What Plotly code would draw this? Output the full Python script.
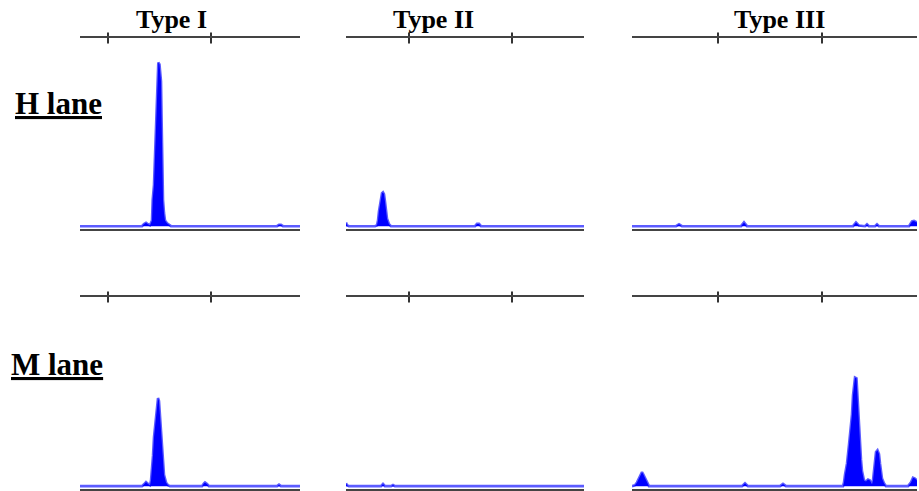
import plotly.graph_objects as go

# ---------------- data (x: migration position, y: band intensity) ----------------
lanes = ["H lane", "M lane"]
types = ["Type I", "Type II", "Type III"]

# tick positions of the top migration scale for each type
ticks_type1 = [28, 131]
ticks_type2 = [63, 166]
ticks_type3 = [86, 190]

# H lane profiles
h_type1_x = [0, 62, 64, 66, 68, 70, 72, 72.7, 74, 75, 76, 77, 77.5, 78.3, 79.5, 80.5, 81, 81.5, 82, 82.5, 83, 84, 85, 87, 89, 91, 197, 199, 201, 203, 220]
h_type1_y = [0, 0, 1.2, 1.8, 1.0, 0.5, 3, 14, 22, 40, 55, 77, 84, 87, 86, 80, 77, 60, 40, 25, 14, 7, 3, 1.5, 0.5, 0, 0, 0.7, 0.7, 0, 0]

h_type2_x = [0, 1, 3, 29, 31, 32, 33, 34, 35, 36, 37, 38, 39, 40, 41, 43, 45, 129, 131, 133, 135, 238]
h_type2_y = [2, 0.5, 0, 0, 0.5, 3, 8, 12, 16, 17.5, 18, 17, 13, 8, 4, 1, 0, 0, 1.2, 1.2, 0, 0]

h_type3_x = [0, 44, 47, 50, 109, 112, 115, 221, 224, 227, 233, 235, 237, 243, 245, 247, 277, 280, 282, 285]
h_type3_y = [0, 0, 1.0, 0, 0, 2.0, 0, 0, 2.0, 0.3, 0, 1.0, 0, 0, 1.0, 0, 0, 2.5, 2.8, 2.0]

# M lane profiles
m_type1_x = [0, 62, 64, 66, 68, 70, 71, 72, 73, 74, 75, 76, 77, 78, 79, 80, 81, 82, 83, 84, 86, 88, 90, 122, 124, 125, 127, 129, 197, 199, 201, 220]
m_type1_y = [0, 0, 1, 2.2, 1.2, 0.5, 3, 8, 16, 26, 32, 38, 44, 46.6, 45, 38, 30, 20, 12, 6, 2, 0.5, 0, 0, 1.5, 2.0, 1.2, 0, 0, 0.8, 0, 0]

m_type2_x = [0, 1, 3, 35, 37, 39, 45, 47, 49, 238]
m_type2_y = [1.5, 0.5, 0, 0, 1.2, 0, 0, 0.6, 0, 0]

m_type3_x = [0, 3, 5, 7, 9, 10, 11, 13, 15, 17, 110, 113, 116, 148, 151, 154, 211, 212, 213, 215, 217, 219, 220, 221, 222, 223, 224.5, 225, 226, 227, 228, 229, 230, 231, 232, 234, 236, 238, 240, 241, 242, 243, 244, 245.5, 247, 248, 249, 250, 252, 254, 276, 279, 281, 283, 285]
m_type3_y = [0, 0.5, 2, 4.5, 6.5, 7.4, 6.5, 4, 1.5, 0, 0, 1.5, 0, 0, 1.2, 0, 0, 2, 6, 12, 22, 32, 38, 48, 55, 57.4, 57, 52, 42, 30, 22, 14, 8, 5, 3, 2.5, 3.5, 3, 1, 3, 8, 14, 18, 19, 17, 12, 7, 4, 1.5, 0, 0, 2, 4.5, 4, 3]

profiles = [
    [(h_type1_x, h_type1_y), (h_type2_x, h_type2_y), (h_type3_x, h_type3_y)],
    [(m_type1_x, m_type1_y), (m_type2_x, m_type2_y), (m_type3_x, m_type3_y)],
]
tick_sets = [ticks_type1, ticks_type2, ticks_type3]

# ---------------- layout geometry ----------------
W, H = 919, 491
col_px = [(80, 300), (346, 584), (632, 917)]
col_range = [(0, 220), (0, 238), (0, 285)]
row_px = [(38, 229), (297, 489)]
Y_RANGE = [-1.5, 100]

fig = go.Figure()
layout_axes = {}
for i in range(2):
    for j in range(3):
        k = i * 3 + j + 1
        xa = "x" if k == 1 else f"x{k}"
        ya = "y" if k == 1 else f"y{k}"
        px_x, py_y = profiles[i][j]
        # baseline / outline trace (light blue)
        fig.add_trace(go.Scatter(x=px_x, y=py_y, mode="lines", xaxis=xa, yaxis=ya,
                                 line=dict(color="#5c5cff", width=2.6), hoverinfo="skip"))
        # filled peaks (pure blue)
        fig.add_trace(go.Scatter(x=px_x, y=py_y, mode="lines", xaxis=xa, yaxis=ya,
                                 fill="tozeroy", fillcolor="#0000ff",
                                 line=dict(color="rgba(0,0,0,0)", width=0), hoverinfo="skip"))
        # ticks on the top scale line
        fig.add_trace(go.Scatter(x=tick_sets[j], y=[Y_RANGE[1]] * len(tick_sets[j]),
                                 mode="markers", xaxis=xa, yaxis=ya, cliponaxis=False,
                                 marker=dict(symbol="line-ns", size=8,
                                             line=dict(color="#333333", width=2)),
                                 hoverinfo="skip"))
        x0, x1 = col_px[j]
        t, b = row_px[i]
        layout_axes["xaxis" if k == 1 else f"xaxis{k}"] = dict(
            domain=[x0 / W, x1 / W], range=list(col_range[j]), anchor=ya,
            showgrid=False, zeroline=False, showticklabels=False, ticks="",
            showline=True, mirror=True, linecolor="#444444", linewidth=2)
        layout_axes["yaxis" if k == 1 else f"yaxis{k}"] = dict(
            domain=[1 - b / H, 1 - t / H], range=Y_RANGE, anchor=xa,
            showgrid=False, zeroline=False, showticklabels=False, ticks="", showline=False)

annotations = []
title_x = [171, 433, 779]
for j, name in enumerate(types):
    annotations.append(dict(text=f"<b>{name}</b>", x=title_x[j] / W, y=1 - 20 / H,
                            xref="paper", yref="paper", showarrow=False,
                            xanchor="center", yanchor="middle",
                            font=dict(family="Liberation Serif", size=26, color="black")))
lane_pos = [(58, 103), (57, 364)]
for i, name in enumerate(lanes):
    annotations.append(dict(text=f"<b><u>{name}</u></b>", x=lane_pos[i][0] / W, y=1 - lane_pos[i][1] / H,
                            xref="paper", yref="paper", showarrow=False,
                            xanchor="center", yanchor="middle",
                            font=dict(family="Liberation Serif", size=31, color="black")))

fig.update_layout(width=W, height=H, margin=dict(l=0, r=0, t=0, b=0),
                  plot_bgcolor="white", paper_bgcolor="white", showlegend=False,
                  annotations=annotations, **layout_axes)

fig.write_html("out.html", config={"displayModeBar": False},
               post_script="document.body.style.margin='0';document.body.style.overflow='hidden';")
